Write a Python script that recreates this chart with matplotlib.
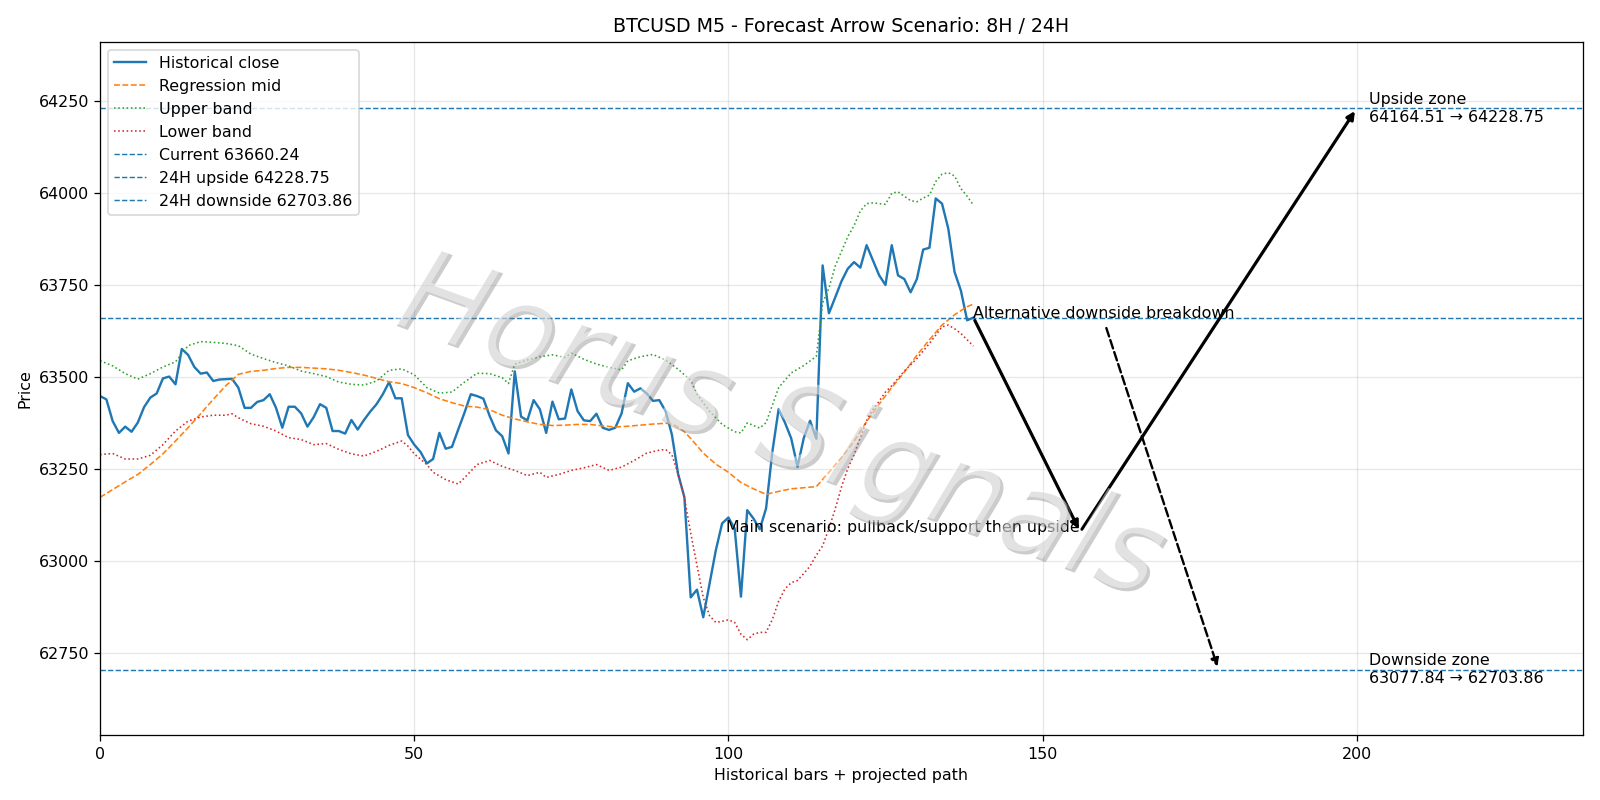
import numpy as np
import matplotlib
matplotlib.use('Agg')
import matplotlib.pyplot as plt
import matplotlib.patheffects as pe

# historical closes (M5 bars)
close = [63447, 63438, 63379, 63347, 63364, 63350, 63375, 63417, 63443, 63454,
         63495, 63500, 63479, 63575, 63559, 63526, 63508, 63511, 63488, 63492,
         63493, 63494, 63470, 63415, 63415, 63431, 63436, 63452, 63415, 63361,
         63418, 63418, 63400, 63364, 63390, 63425, 63415, 63352, 63352, 63345,
         63382, 63356, 63382, 63405, 63425, 63452, 63485, 63441, 63441, 63341,
         63315, 63295, 63264, 63276, 63347, 63304, 63309, 63356, 63402, 63452,
         63447, 63440, 63393, 63354, 63338, 63291, 63514, 63391, 63381, 63436,
         63411, 63347, 63432, 63384, 63386, 63465, 63406, 63381, 63379, 63399,
         63361, 63355, 63361, 63400, 63482, 63459, 63468, 63454, 63434, 63436,
         63406, 63343, 63235, 63172, 62900, 62921, 62846, 62937, 63028, 63101,
         63117, 63087, 62902, 63137, 63114, 63085, 63142, 63296, 63412, 63375,
         63332, 63255, 63333, 63380, 63331, 63802, 63672, 63715, 63759, 63793,
         63811, 63796, 63857, 63816, 63775, 63749, 63857, 63775, 63765, 63729,
         63765, 63845, 63850, 63984, 63970, 63902, 63784, 63734, 63653, 63660.24]

mid_x = [0, 2, 4, 6, 8, 10, 12, 14, 16, 18, 20, 22, 24, 26, 28, 30, 32, 34, 36, 38,
         40, 42, 44, 46, 48, 50, 52, 54, 56, 58, 60, 62, 64, 66, 68, 70, 72, 74, 76, 78,
         80, 82, 84, 86, 88, 90, 91, 92, 93, 94, 96, 98, 100, 102, 104, 106, 108, 110,
         112, 114, 116, 118, 120, 122, 124, 126, 128, 130, 132, 134, 136, 138, 139]
mid = [63172, 63193, 63214, 63234, 63261, 63290, 63325, 63361, 63399, 63438,
       63475, 63506, 63514, 63517, 63522, 63525, 63525, 63523, 63521, 63517,
       63511, 63504, 63495, 63486, 63481, 63470, 63456, 63440, 63429, 63420,
       63417, 63410, 63395, 63385, 63377, 63370, 63367, 63368, 63370, 63370,
       63366, 63363, 63365, 63368, 63371, 63373, 63372, 63362, 63350, 63332,
       63292, 63262, 63240, 63212, 63195, 63180, 63188, 63195, 63198, 63201,
       63240, 63280, 63324, 63378, 63425, 63470, 63512, 63558, 63600, 63640,
       63668, 63690, 63697]

upper_x = [0, 2, 4, 6, 8, 10, 12, 14, 16, 18, 20, 22, 24, 26, 28, 30, 32, 34, 36, 38,
           40, 42, 44, 46, 48, 50, 52, 54, 56, 58, 60, 62, 64, 65, 66, 68, 70, 72, 74, 75,
           77, 79, 81, 83, 84, 86, 88, 90, 92, 94, 95, 97, 99, 101, 102, 103, 105, 106,
           108, 110, 112, 114, 115, 116, 117, 118, 119, 120, 121, 122, 123, 124, 125,
           126, 127, 128, 129, 130, 131, 132, 133, 134, 135, 136, 137, 138, 139]
upper = [63543, 63529, 63508, 63493, 63508, 63526, 63540, 63584, 63595, 63593,
         63590, 63584, 63561, 63549, 63538, 63529, 63515, 63508, 63500, 63485,
         63479, 63477, 63488, 63517, 63521, 63505, 63470, 63455, 63458, 63485,
         63509, 63508, 63497, 63481, 63534, 63545, 63554, 63559, 63552, 63564,
         63547, 63534, 63525, 63518, 63543, 63554, 63560, 63545, 63520, 63490,
         63452, 63406, 63370, 63350, 63347, 63374, 63360, 63375, 63470, 63510,
         63530, 63555, 63700, 63740, 63800, 63840, 63880, 63910, 63950, 63970,
         63972, 63970, 63968, 63998, 64002, 63990, 63978, 63975, 63985, 63993,
         64030, 64050, 64054, 64045, 64011, 63990, 63966]

lower_x = [0, 2, 4, 6, 8, 10, 12, 14, 16, 18, 20, 21, 22, 24, 26, 28, 30, 32, 34, 36,
           38, 40, 42, 44, 46, 48, 49, 50, 52, 53, 55, 57, 58, 60, 62, 64, 66, 68, 70, 71,
           73, 75, 77, 79, 81, 83, 85, 87, 89, 90, 91, 92, 93, 94, 95, 96, 97, 98, 99,
           100, 101, 102, 103, 104, 105, 106, 107, 108, 109, 110, 111, 112, 113, 114,
           115, 116, 117, 118, 119, 120, 121, 122, 123, 124, 125, 126, 128, 130, 132,
           134, 135, 136, 137, 138, 139]
lower = [63288, 63291, 63276, 63276, 63286, 63315, 63352, 63379, 63390, 63395,
         63395, 63399, 63388, 63372, 63365, 63352, 63334, 63329, 63315, 63318,
         63302, 63290, 63284, 63297, 63313, 63325, 63311, 63290, 63261, 63240,
         63220, 63208, 63225, 63261, 63272, 63256, 63245, 63231, 63240, 63226,
         63234, 63245, 63252, 63261, 63245, 63254, 63272, 63292, 63300, 63302,
         63288, 63235, 63170, 63075, 62987, 62900, 62850, 62832, 62835, 62839,
         62832, 62800, 62785, 62800, 62805, 62805, 62840, 62890, 62923, 62940,
         62946, 62965, 62985, 63015, 63040, 63087, 63140, 63200, 63250, 63287,
         63335, 63380, 63410, 63433, 63458, 63475, 63515, 63549, 63590, 63635,
         63640, 63630, 63617, 63600, 63583]

current = 63660.24
up_24h = 64228.75
down_24h = 62703.86
up_8h = 64164.51
down_8h = 63077.84

# projected scenario paths (bar index, price)
main_x = [139, 156, 200]
main_y = [current, down_8h, up_24h]
alt_x = [160, 178]
alt_y = [63640, down_24h]

fig, ax = plt.subplots(figsize=(14, 7), dpi=1600 / 14)

ax.plot(np.arange(len(close)), close, color='C0', lw=1.5, label='Historical close')
ax.plot(mid_x, mid, color='C1', ls='--', lw=1, label='Regression mid')
ax.plot(upper_x, upper, color='C2', ls=':', lw=1, label='Upper band')
ax.plot(lower_x, lower, color='C3', ls=':', lw=1, label='Lower band')
ax.axhline(current, color='C0', ls='--', lw=0.9, label=f'Current {current:.2f}')
ax.axhline(up_24h, color='C0', ls='--', lw=0.9, label=f'24H upside {up_24h:.2f}')
ax.axhline(down_24h, color='C0', ls='--', lw=0.9, label=f'24H downside {down_24h:.2f}')

# main scenario arrows
for i in range(len(main_x) - 1):
    ax.annotate('', xy=(main_x[i + 1], main_y[i + 1]), xytext=(main_x[i], main_y[i]),
                arrowprops=dict(arrowstyle='-|>', color='black', lw=2))
ax.text(main_x[1], main_y[1], 'Main scenario: pullback/support then upside',
        ha='right', fontsize=10)

# alternative
ax.annotate('', xy=(alt_x[1], alt_y[1]), xytext=(alt_x[0], alt_y[0]),
            arrowprops=dict(arrowstyle='-|>', color='black', lw=1.5, ls='--'))
ax.text(main_x[0], current, 'Alternative downside breakdown', ha='left', fontsize=10)

ax.text(202, up_24h, f'Upside zone\n{up_8h:.2f} → {up_24h:.2f}', va='center', fontsize=10)
ax.text(202, down_24h, f'Downside zone\n{down_8h:.2f} → {down_24h:.2f}', va='center', fontsize=10)

ax.set_xlim(0, 236)
ax.set_ylim(62525, 64410)
ax.set_title('BTCUSD M5 - Forecast Arrow Scenario: 8H / 24H')
ax.set_xlabel('Historical bars + projected path')
ax.set_ylabel('Price')
ax.grid(True, alpha=0.3)
ax.legend(loc='upper left')

# watermark
fig.text(0.487, 0.465, 'Horus Signals', fontsize=74, color='white', alpha=0.45,
         rotation=-20, style='italic', ha='center', va='center',
         path_effects=[pe.withSimplePatchShadow(offset=(2, -2), shadow_rgbFace='gray', alpha=0.4)])

plt.tight_layout()
plt.savefig('out.png')
